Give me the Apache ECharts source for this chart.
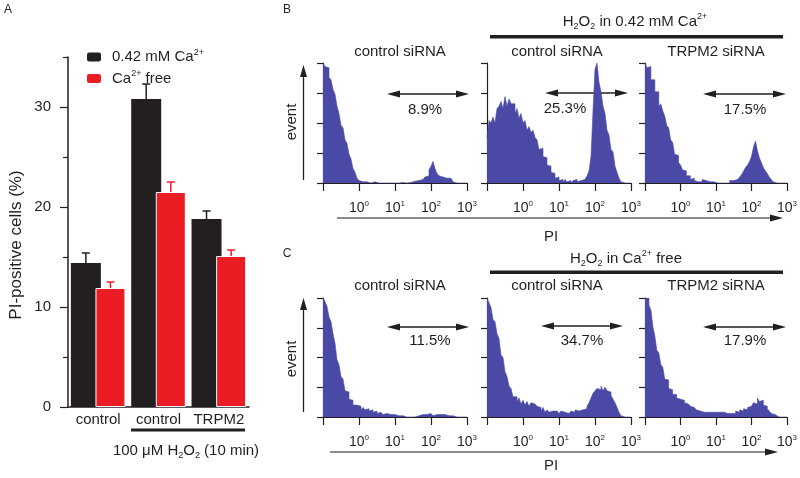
<!DOCTYPE html>
<html><head><meta charset="utf-8">
<script src="https://cdn.jsdelivr.net/npm/echarts@6/dist/echarts.min.js"></script>
<style>html,body{margin:0;padding:0;background:#fff}#c{width:800px;height:478px}</style>
</head><body><div id="c"></div>
<script>
// ---------- Panel A data ----------
const groups = ['control', 'control', 'TRPM2'];
const ca042 = [14.4, 30.8, 18.8];
const ca042Err = [1.0, 1.5, 0.8];
const caFree = [11.9, 21.5, 15.1];
const caFreeErr = [0.6, 1.0, 0.6];
const yMajorTicks = [0, 10, 20, 30];
const yMinorTicks = [5, 15, 25, 35];

// ---------- Panels B/C: PI histograms (72 bins over log10 PI from -1 to 3, % of max) ----------
const piDecades = [-1, 0, 1, 2, 3];
const binsPerDecade = 18;
const histB1 = [100,97,96,88,86,78,74,64,58,48, 46,36,33,24,20,12,9,4,2,1,
  0,1,1.5,0,1.5,1,1.5,0,1,0, 0,0,0,0,0,0,0,0,0,0.5,
  1,0,1,0.5,1,1.5,2,2,3,3, 4,5,6,11,14,18,12,8,6,5,
  5,4,4,4,3,1,0,0,0,0, 0,0];
const histB2 = [38,52,50,55,50,62,64,68,62,72, 64,70,66,66,58,62,54,58,50,52,
  44,47,42,44,38,36,28,29,22,21, 15,14,9,8,4,5,2,3,1,3,
  1,2,0,2,3,1,2,1,3,4, 6,10,22,60,95,100,84,76,64,58,
  44,40,28,26,14,9,4,1,0,0, 0,0];
const histB3 = [100,96,97,86,86,76,76,64,66,60, 56,48,46,36,34,24,23,17,15,11,
  10,6,6,3,4,2,1,2,1,3, 2,2,1,2,1,0,0,0.5,0,0,
  0,1,0,2,2,3,3,4,5,7, 10,13,15,18,22,30,35,27,21,17,
  13,10,8,5,3,1,0,0,0,0, 0,0];
const histC1 = [100,97,93,84,80,70,62,48,44,34, 32,22,21,15,14,10,10,9,9,6,
  8,6,7,5,6,4,5,3,4,3, 2,3,2,2,1,2,1,1,0,1,
  0,0,1,0,1,0,0,1,1,2, 1,2,2,3,2,1,2,3,2,3,
  2,2,1,2,1,0,0,0,0,0, 0,0];
const histC2 = [100,96,92,82,80,70,66,52,50,38, 34,26,24,17,17,13,16,11,14,10,
  13,9,12,11,10,9,8,5,8,4, 6,4,5,4,5,4,3,5,4,5,
  3,4,5,4,6,5,4,6,5,7, 9,12,16,20,22,24,23,26,22,25,
  22,21,18,15,12,8,4,1,0,0, 0,0];
const histC3 = [100,100,94,90,76,68,56,54,44,42, 32,31,24,23,19,19,16,15,14,14,
  12,11,10,9,8,7,6,5,6,4, 5,4,5,4,3,4,3,4,3,4,
  3,3,4,3,4,3,5,4,6,5, 7,6,8,9,10,12,11,16,13,14,
  10,9,7,5,3,2,0.5,0,0,0, 0,0];
const gateLabels = ['8.9%', '25.3%', '17.5%', '11.5%', '34.7%', '17.9%'];
const sampleLabels = ['control siRNA', 'control siRNA', 'TRPM2 siRNA'];

// ---------- layout ----------
const FONT = '"Liberation Sans", Arial, sans-serif';
const INK = '#231f20';
const BLUE = '#4a4aa6';
const hists = [histB1, histB2, histB3, histC1, histC2, histC3];
const hLefts = [323, 487, 645];
const hTops = [63, 298];
const hHeights = [120, 119];

const grids = [{left: 68, top: 57, width: 181, height: 350}];
const xAxes = [{
  type: 'category', gridIndex: 0, data: groups,
  axisLine: {lineStyle: {color: INK, width: 1.5}},
  axisTick: {show: false},
  axisLabel: {interval: 0, color: INK, fontSize: 15, fontFamily: FONT, margin: 5}
}];
const yAxes = [{
  type: 'value', gridIndex: 0, min: 0, max: 35, interval: 5, position: 'left',
  axisLine: {show: true, lineStyle: {color: INK, width: 1.5}},
  axisTick: {show: true, length: 8, customValues: yMajorTicks, lineStyle: {color: INK, width: 1.2}},
  axisLabel: {customValues: yMajorTicks, color: INK, fontSize: 15, fontFamily: FONT, margin: 17},
  splitLine: {show: false}
}, {
  type: 'value', gridIndex: 0, min: 0, max: 35, interval: 5, position: 'left', offset: 0,
  axisLine: {show: false},
  axisTick: {show: true, length: 5, customValues: yMinorTicks, lineStyle: {color: INK, width: 1.2}},
  axisLabel: {show: false}, splitLine: {show: false}
}];

const sup = {fontSize: 9, lineHeight: 9, verticalAlign: 'top', fontFamily: FONT, color: INK};
const series = [
  {name: '0.42 mM Ca2+', type: 'bar', xAxisIndex: 0, yAxisIndex: 0, data: ca042,
   barWidth: 30, barGap: '-18%', itemStyle: {color: INK}},
  {name: 'Ca2+ free', type: 'bar', xAxisIndex: 0, yAxisIndex: 0, data: caFree,
   barWidth: 30, barGap: '-18%', itemStyle: {color: '#ec1c24', borderColor: '#fff', borderWidth: 1}}
];
function errSeries(vals, errs, color, side) {
  return {
    type: 'custom', xAxisIndex: 0, yAxisIndex: 0, z: 5,
    data: vals.map((v, i) => [i, v, errs[i]]),
    renderItem: function (params, api) {
      const off = side * (30 * (2 - 0.18) / 2 - 15);
      const p0 = api.coord([api.value(0), api.value(1)]);
      const p1 = api.coord([api.value(0), api.value(1) + api.value(2)]);
      const x = p0[0] + off;
      return {type: 'group', children: [
        {type: 'line', shape: {x1: x, y1: p0[1], x2: x, y2: p1[1]}, style: {stroke: color, lineWidth: 1.5}},
        {type: 'line', shape: {x1: x - 4, y1: p1[1], x2: x + 4, y2: p1[1]}, style: {stroke: color, lineWidth: 1.5}}
      ]};
    }
  };
}
series.push(errSeries(ca042, ca042Err, INK, -1));
series.push(errSeries(caFree, caFreeErr, '#ec1c24', 1));

hists.forEach((h, k) => {
  const row = Math.floor(k / 3), col = k % 3;
  const gi = grids.length;
  grids.push({left: hLefts[col], top: hTops[row], width: 144, height: hHeights[row]});
  xAxes.push({
    type: 'value', gridIndex: gi, min: -1, max: 3, interval: 1,
    axisLine: {onZero: false, lineStyle: {color: INK, width: 1.2}},
    axisTick: {length: 8, lineStyle: {color: INK, width: 1.2}},
    axisLabel: {
      margin: 17, color: INK,
      formatter: v => (v <= -1 ? '' : '{b|10}{s|' + Math.round(v) + '}'),
      rich: {b: {fontSize: 14, lineHeight: 16, fontFamily: FONT, color: INK}, s: {fontSize: 8, lineHeight: 8, verticalAlign: 'top', fontFamily: FONT, color: INK}}
    },
    splitLine: {show: false}
  });
  const yi = yAxes.length;
  yAxes.push({
    type: 'value', gridIndex: gi, min: 0, max: 100, interval: 25,
    axisLine: {show: true, onZero: false, lineStyle: {color: INK, width: 1.2}},
    axisTick: {show: true, length: 6, lineStyle: {color: INK, width: 1.2}},
    axisLabel: {show: false}, splitLine: {show: false}
  });
  const pts = h.map((v, i) => [piDecades[0] + i / binsPerDecade, v]);
  pts.push([piDecades[piDecades.length - 1], 0]);
  series.push({
    type: 'line', xAxisIndex: xAxes.length - 1, yAxisIndex: yi, data: pts,
    step: 'end', showSymbol: false, silent: true,
    lineStyle: {width: 0.6, color: BLUE}, areaStyle: {color: BLUE, opacity: 1}
  });
});

// ---------- annotations ----------
const g = [];
function txt(x, y, text, size, extra) {
  g.push({type: 'text', x: x, y: y, style: Object.assign({
    text: text, fontSize: size, fontFamily: FONT, fill: INK,
    align: 'center', verticalAlign: 'middle', textAlign: 'center', textVerticalAlign: 'middle'
  }, extra || {})});
}
function richTxt(x, y, text, size) {
  g.push({type: 'text', x: x, y: y, style: {
    text: text, fontSize: size, fontFamily: FONT, fill: INK,
    align: 'center', verticalAlign: 'middle', textAlign: 'center', textVerticalAlign: 'middle',
    rich: {
      t: {fontSize: size, lineHeight: size + 4, fontFamily: FONT},
      u: {fontSize: 9, lineHeight: 9, verticalAlign: 'top', fontFamily: FONT},
      d: {fontSize: 9, lineHeight: 9, verticalAlign: 'bottom', fontFamily: FONT}
    }}});
}
function rect(x, y, w, h, c) { g.push({type: 'rect', shape: {x: x, y: y, width: w, height: h}, style: {fill: c || INK}}); }
function line(x1, y1, x2, y2, c, w) { g.push({type: 'line', shape: {x1, y1, x2, y2}, style: {stroke: c || INK, lineWidth: w || 1.5}}); }
function tri(points, c) { g.push({type: 'polygon', shape: {points: points}, style: {fill: c || INK}}); }
function dblArrow(x1, x2, y) {
  line(x1 + 8, y, x2 - 8, y, INK, 1.5);
  tri([[x1, y], [x1 + 13, y - 3.5], [x1 + 13, y + 3.5]]);
  tri([[x2, y], [x2 - 13, y - 3.5], [x2 - 13, y + 3.5]]);
}

// panel letters
txt(8, 10, 'A', 12);
txt(287, 10, 'B', 12);
txt(287, 254, 'C', 12);

// panel A texts
g.push({type: 'text', x: 16, y: 245, rotation: Math.PI / 2, style: {
  text: 'PI-positive cells (%)', fontSize: 17, fontFamily: FONT, fill: INK,
  align: 'center', verticalAlign: 'middle', textAlign: 'center', textVerticalAlign: 'middle'}});
rect(131, 428.5, 114, 3);
richTxt(186, 451, '{t|100 μM H}{d|2}{t|O}{d|2}{t| (10 min)}', 15);

// panel B header
richTxt(635, 22, '{t|H}{d|2}{t|O}{d|2}{t| in 0.42 mM Ca}{u|2+}', 15);
rect(490, 35, 293, 3.5);
// panel C header
richTxt(626, 259, '{t|H}{d|2}{t|O}{d|2}{t| in Ca}{u|2+}{t| free}', 15);
rect(490, 270.5, 293, 3.5);

const subX = [400, 557, 716];
[52, 286].forEach(y => sampleLabels.forEach((s, i) => txt(subX[i], y, s, 15)));

// gate arrows
const gates = [[387, 469, 94, 425, 110], [545, 628, 93, 565, 109], [703, 786, 94, 745, 110],
               [387, 469, 327, 430, 341], [541, 623, 326, 582, 341], [703, 786, 327, 745, 341]];
gates.forEach((q, i) => { dblArrow(q[0], q[1], q[2]); txt(q[3], q[4], gateLabels[i], 15); });

// event axes
[[180, 65, 122], [412, 298, 359]].forEach(q => {
  line(303.5, q[0], 303.5, q[1] + 10, INK, 1.3);
  tri([[303.5, q[1]], [300, q[1] + 12], [307, q[1] + 12]]);
  g.push({type: 'text', x: 292, y: q[2], rotation: Math.PI / 2, style: {
    text: 'event', fontSize: 15, fontFamily: FONT, fill: INK,
    align: 'center', verticalAlign: 'middle', textAlign: 'center', textVerticalAlign: 'middle'}});
});
// PI axes
[[337, 783, 218, 237], [330, 778, 452, 466]].forEach(q => {
  line(q[0], q[2], q[1] - 10, q[2], '#666', 1.5);
  tri([[q[1], q[2]], [q[1] - 13, q[2] - 3.5], [q[1] - 13, q[2] + 3.5]]);
  txt(551, q[3], 'PI', 15);
});

const option = {
  animation: false,
  backgroundColor: '#fff',
  textStyle: {fontFamily: FONT},
  legend: {
    orient: 'vertical', left: 82, top: 43, itemWidth: 14, itemHeight: 9, itemGap: 5,
    data: ['0.42 mM Ca2+', 'Ca2+ free'],
    itemStyle: {borderWidth: 0},
    formatter: n => (n === 'Ca2+ free' ? '{t|Ca}{s|2+}{t| free}' : '{t|0.42 mM Ca}{s|2+}'),
    textStyle: {color: INK, padding: [0, 0, 0, 6], rich: {
      t: {fontSize: 15, lineHeight: 18, fontFamily: FONT, color: INK},
      s: sup}}
  },
  grid: grids, xAxis: xAxes, yAxis: yAxes, series: series, graphic: g
};
const chart = echarts.init(document.getElementById('c'), null, {renderer: 'canvas'});
chart.setOption(option);
</script></body></html>
